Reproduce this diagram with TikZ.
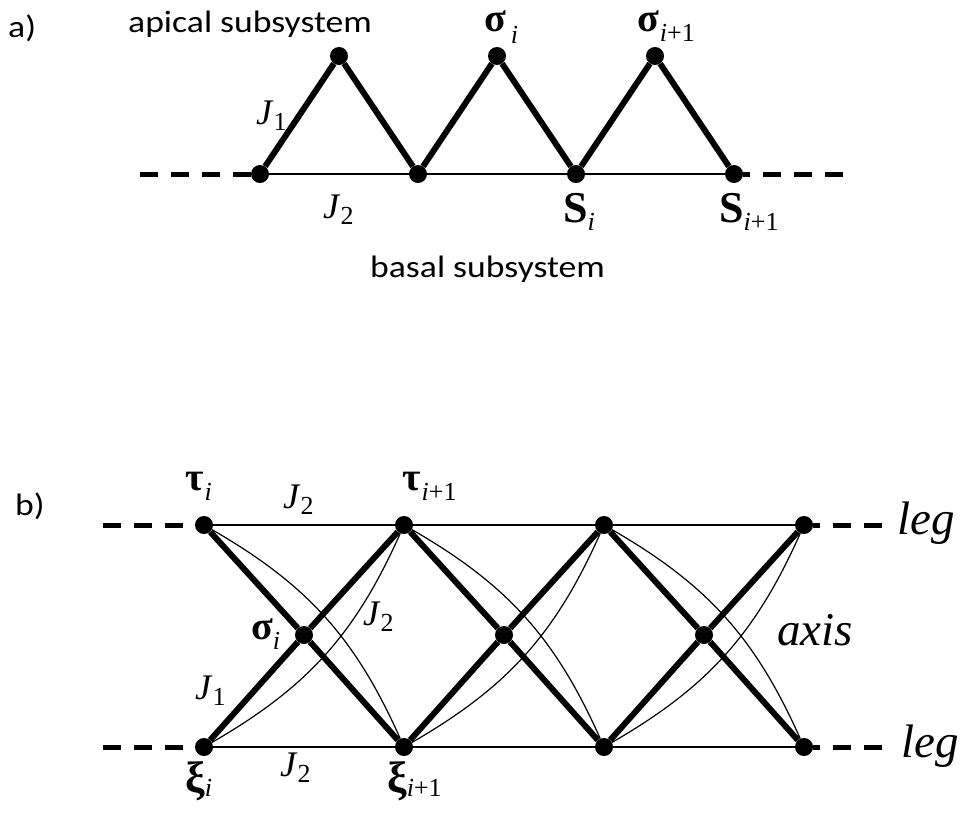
\documentclass[tikz,border=0pt]{standalone}
\usepackage{fontspec}
\setmainfont{Liberation Serif}
\newfontfamily\labelsans[FakeStretch=1.15]{Carlito}
\usetikzlibrary{positioning}

\newcommand{\idx}[2][12pt]{\raisebox{-#1}{\fontsize{26}{26}\selectfont #2}}
\newcommand{\ii}{\textit{i}}

\begin{document}
\begin{tikzpicture}[
      x=1pt, y=-1pt,
      site/.style={circle, fill=black, inner sep=0pt, minimum size=18pt},
      bond/.style={line width=6pt},
      chain/.style={line width=2pt},
      far/.style={line width=1.2pt},
      tail/.style={line width=5pt, dash pattern=on 18pt off 13pt},
      sym/.style={inner sep=0pt, anchor=base west, font=\fontsize{36}{36}\selectfont},
      greek/.style={sym, font=\bfseries\fontsize{40}{40}\selectfont},
      caption/.style={inner sep=0pt, anchor=base west, font=\labelsans\fontsize{31}{31}\selectfont},
      word/.style={inner sep=0pt, anchor=base west, font=\itshape\fontsize{47}{47}\selectfont},
    ]
    \useasboundingbox (0,0) rectangle (960,812);

    % a) sawtooth chain
    \foreach \k in {0,...,3}
      \node[site] (B\k) at ({260+158*\k},174) {};
    \foreach \k in {0,1,2}
      \node[site] (A\k) at ({339+158*\k},56) {};
    \coordinate (aW) at (140,174);
    \coordinate (aE) at (843,174);

    \draw[chain] (B0) -- (B3);
    \draw[bond] (B0) -- (A0) -- (B1) -- (A1) -- (B2) -- (A2) -- (B3);
    \draw[tail] (aW) -- (B0);
    \draw[tail] (aE) -- (B3);

    \node[caption] (tagA) at (8,37) {a)};
    \node[caption] (apical) at (128,32) {apical subsystem};
    \node[caption] (basal) at (370,277) {basal subsystem};
    \node[greek] (sigA) at (484,31) {σ\kern5pt\idx{\mdseries\ii}};
    \node[greek] (sigB) at (637,31) {σ\kern1pt\idx[10pt]{\mdseries\ii+1}};
    \node[sym] (jOne) at (256,124) {\textit{J}\idx[6pt]{1}};
    \node[sym] (jTwo) at (323,218) {\textit{J}\idx[6pt]{2}};
    \node[greek, font=\bfseries\fontsize{44}{44}\selectfont] (sA) at (563,222) {S\idx[8pt]{\mdseries\ii}};
    \node[greek, font=\bfseries\fontsize{44}{44}\selectfont] (sB) at (719,222) {S\idx[8pt]{\mdseries\ii+1}};

    % b) two-leg ladder with axis sites
    \foreach \k in {0,...,3}{
        \node[site] (T\k) at ({204+200*\k},525) {};
        \node[site] (X\k) at ({204+200*\k},747) {};
      }
    \foreach \k in {0,1,2}
      \node[site] (M\k) at ({304+200*\k},635) {};
    \coordinate (tW) at (103,525);
    \coordinate (xW) at (103,747);
    \coordinate (tE) at (882,525);
    \coordinate (xE) at (882,747);

    \draw[chain] (T0) -- (T3);
    \draw[chain] (X0) -- (X3);
    \foreach \k/\n in {0/1, 1/2, 2/3}{
        \draw[bond] (T\k) -- (M\k) -- (X\n);
        \draw[bond] (X\k) -- (M\k) -- (T\n);
        \draw[far] (T\k) to[bend left=18] (X\n);
        \draw[far] (X\k) to[bend right=18] (T\n);
      }
    \draw[tail] (tW) -- (T0);
    \draw[tail] (xW) -- (X0);
    \draw[tail] (tE) -- (T3);
    \draw[tail] (xE) -- (X3);

    \node[caption] (tagB) at (15,515) {b)};
    \node[greek] (tauA) at (185,490) {τ\kern1pt\idx[10pt]{\mdseries\ii}};
    \node[greek] (tauB) at (402,490) {τ\kern1pt\idx[10pt]{\mdseries\ii+1}};
    \node[sym] (jTop) at (283,508) {\textit{J}\idx[6pt]{2}};
    \node[greek] (sigM) at (251,639) {σ\idx[10pt]{\mdseries\ii}};
    \node[sym] (jMid) at (363,625) {\textit{J}\idx[6pt]{2}};
    \node[sym] (jLow) at (195,699) {\textit{J}\idx[6pt]{1}};
    \node[greek, font=\bfseries\fontsize{44}{44}\selectfont] (xiA) at (185,792) {ξ\idx[4pt]{\mdseries\ii}};
    \node[greek, font=\bfseries\fontsize{44}{44}\selectfont] (xiB) at (387,792) {ξ\idx[4pt]{\mdseries\ii+1}};
    \node[sym] (jBot) at (280,776) {\textit{J}\idx[6pt]{2}};
    \node[word] (legT) at (897,534) {leg};
    \node[word] (legX) at (901,757) {leg};
    \node[word] (axis) at (777,645) {axis};
  \end{tikzpicture}
\end{document}
